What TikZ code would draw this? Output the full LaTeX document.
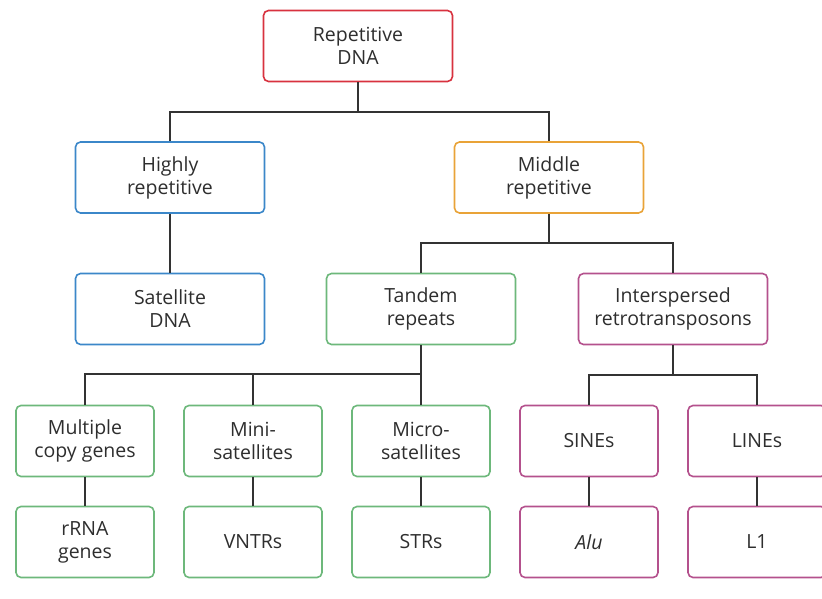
\documentclass[tikz,border=0pt]{standalone}
\usepackage{fontspec}
\setmainfont{Open Sans}
\begin{document}
\begin{tikzpicture}[x=1pt,y=-1pt,
  box/.style={draw=#1, line width=1.6pt, rounded corners=5pt, fill=white,
    align=center, inner sep=0pt, text=txt, font=\fontsize{19.5}{23}\selectfont},
  wide/.style={minimum width=189pt, minimum height=71pt},
  narrow/.style={minimum width=138pt, minimum height=71pt},
  conn/.style={draw=line, line width=1.8pt}]
\definecolor{txt}{HTML}{2E2E2E}
\definecolor{line}{HTML}{333333}
\definecolor{cred}{HTML}{D8323F}
\definecolor{cblue}{HTML}{3B87C9}
\definecolor{corange}{HTML}{E9A338}
\definecolor{cgreen}{HTML}{6DB87B}
\definecolor{cpurple}{HTML}{B4518D}
\useasboundingbox (0,0) rectangle (822,599);
% nodes
\node[box=cred, wide] (root) at (358,46) {Repetitive\\DNA};
\node[box=cblue, wide] (high) at (170,177.5) {Highly\\repetitive};
\node[box=corange, wide] (mid) at (549,177.5) {Middle\\repetitive};
\node[box=cblue, wide] (sat) at (170,309) {Satellite\\DNA};
\node[box=cgreen, wide] (tan) at (421,309) {Tandem\\repeats};
\node[box=cpurple, wide] (int) at (673,309) {Interspersed\\retrotransposons};
\node[box=cgreen, narrow] (mcg) at (85,441) {Multiple\\copy genes};
\node[box=cgreen, narrow] (mini) at (253,441) {Mini-\\satellites};
\node[box=cgreen, narrow] (micro) at (421,441) {Micro-\\satellites};
\node[box=cpurple, narrow] (sines) at (589,441) {SINEs};
\node[box=cpurple, narrow] (lines) at (757,441) {LINEs};
\node[box=cgreen, narrow] (rrna) at (85,542) {rRNA\\genes};
\node[box=cgreen, narrow] (vntr) at (253,542) {VNTRs};
\node[box=cgreen, narrow] (str) at (421,542) {STRs};
\node[box=cpurple, narrow] (alu) at (589,542) {\itshape Alu};
\node[box=cpurple, narrow] (l1) at (757,542) {L1};
% junctions
\coordinate (j1) at (358,112);
\coordinate (j2) at (549,243);
\coordinate (j3) at (421,374);
\coordinate (j4) at (673,375);
% connectors
\draw[conn] (root.south) -- (j1);
\draw[conn] (high.north) |- (j1) -| (mid.north);
\draw[conn] (high.south) -- (sat.north);
\draw[conn] (mid.south) -- (j2);
\draw[conn] (tan.north) |- (j2) -| (int.north);
\draw[conn] (tan.south) -- (micro.north);
\draw[conn] (mcg.north) |- (j3);
\draw[conn] (mini.north) -- (mini.north |- j3);
\draw[conn] (int.south) -- (j4);
\draw[conn] (sines.north) |- (j4) -| (lines.north);
\draw[conn] (mcg.south) -- (rrna.north);
\draw[conn] (mini.south) -- (vntr.north);
\draw[conn] (micro.south) -- (str.north);
\draw[conn] (sines.south) -- (alu.north);
\draw[conn] (lines.south) -- (l1.north);
\end{tikzpicture}
\end{document}
